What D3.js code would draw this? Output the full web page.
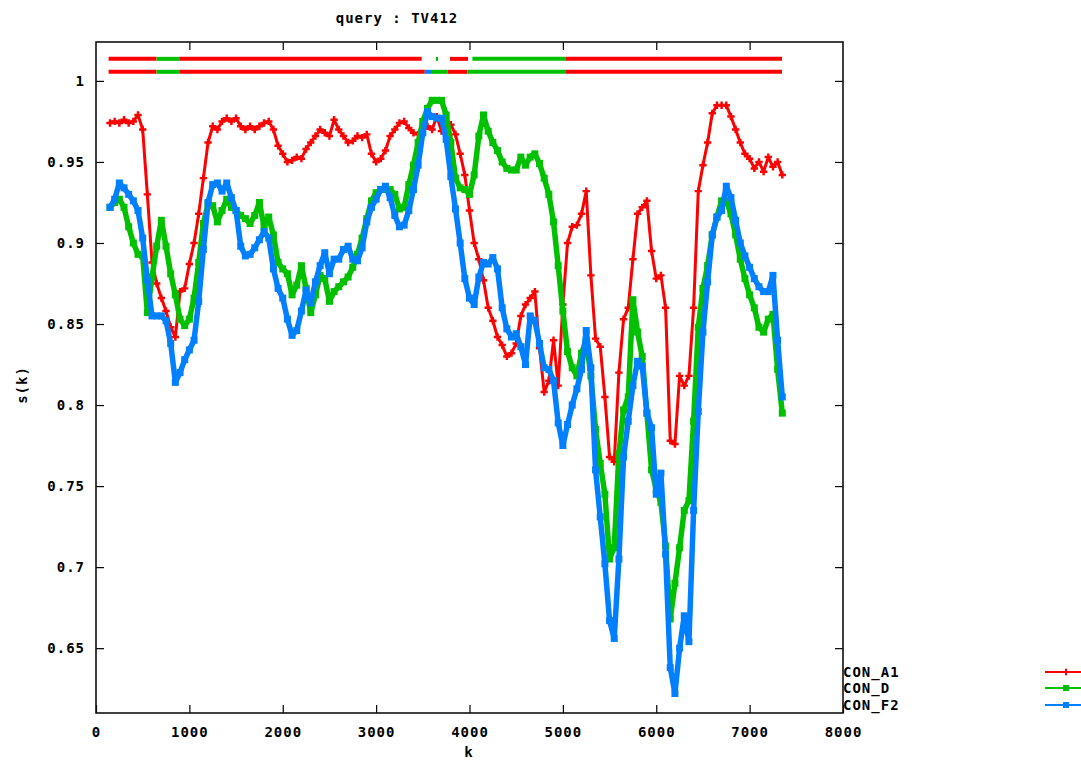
<!DOCTYPE html>
<html>
<head>
<meta charset="utf-8">
<script src="https://cdn.jsdelivr.net/npm/d3@7"></script>
<style>
  body { margin: 0; background: #fff; }
  svg { display: block; }
  text { font-family: "DejaVu Sans Mono", "Liberation Mono", monospace; font-weight: bold; font-size: 14px; letter-spacing: 1px; fill: #000; }
</style>
</head>
<body>
<svg id="chart" width="1081" height="760"></svg>
<script>
// Window positions k (sliding window start along the query)
const kValues = d3.range(150, 7351, 50);

// Similarity s(k) of query TV412 against each reference
const conA1 = [
  0.974, 0.975, 0.974, 0.976, 0.974, 0.975, 0.979, 0.970, 0.930, 0.888,
  0.875, 0.866, 0.858, 0.848, 0.842, 0.870, 0.872, 0.887, 0.900, 0.918,
  0.940, 0.962, 0.972, 0.970, 0.975, 0.977, 0.975, 0.977, 0.972, 0.970,
  0.972, 0.970, 0.972, 0.974, 0.975, 0.970, 0.960, 0.955, 0.950, 0.951,
  0.953, 0.952, 0.958, 0.962, 0.966, 0.970, 0.968, 0.966, 0.976, 0.970,
  0.966, 0.962, 0.963, 0.966, 0.965, 0.967, 0.955, 0.950, 0.952, 0.957,
  0.966, 0.970, 0.974, 0.975, 0.971, 0.968, 0.967, 0.971, 0.972, 0.970,
  0.978, 0.969, 0.968, 0.973, 0.967, 0.955, 0.942, 0.920, 0.900, 0.890,
  0.877, 0.860, 0.852, 0.842, 0.837, 0.830, 0.832, 0.838, 0.855, 0.862,
  0.866, 0.870, 0.835, 0.808, 0.815, 0.840, 0.812, 0.862, 0.900, 0.910,
  0.911, 0.918, 0.932, 0.880, 0.841, 0.836, 0.805, 0.768, 0.765, 0.820,
  0.853, 0.860, 0.890, 0.918, 0.922, 0.926, 0.895, 0.878, 0.880, 0.860,
  0.778, 0.776, 0.818, 0.812, 0.818, 0.860, 0.932, 0.948, 0.962, 0.980,
  0.985, 0.985, 0.985, 0.978, 0.970, 0.962, 0.955, 0.952, 0.946, 0.950,
  0.944, 0.953, 0.947, 0.950, 0.942
];
const conD = [
  0.922, 0.925, 0.927, 0.922, 0.910, 0.900, 0.893, 0.892, 0.857, 0.879,
  0.898, 0.914, 0.898, 0.881, 0.868, 0.853, 0.849, 0.853, 0.866, 0.888,
  0.912, 0.924, 0.923, 0.913, 0.920, 0.927, 0.922, 0.920, 0.917, 0.915,
  0.912, 0.917, 0.925, 0.910, 0.916, 0.905, 0.888, 0.884, 0.881, 0.868,
  0.874, 0.886, 0.872, 0.857, 0.868, 0.880, 0.878, 0.864, 0.870, 0.873,
  0.876, 0.879, 0.885, 0.893, 0.903, 0.915, 0.926, 0.931, 0.933, 0.933,
  0.933, 0.930, 0.921, 0.922, 0.936, 0.948, 0.962, 0.975, 0.983, 0.988,
  0.988, 0.988, 0.979, 0.962, 0.940, 0.934, 0.933, 0.930, 0.942, 0.966,
  0.979, 0.969, 0.962, 0.957, 0.950, 0.946, 0.945, 0.945, 0.953, 0.948,
  0.953, 0.955, 0.949, 0.940, 0.930, 0.913, 0.886, 0.858, 0.833, 0.823,
  0.818, 0.832, 0.840, 0.818, 0.785, 0.764, 0.745, 0.705, 0.712, 0.770,
  0.797, 0.805, 0.865, 0.845, 0.830, 0.795, 0.760, 0.748, 0.740, 0.713,
  0.668, 0.690, 0.712, 0.735, 0.741, 0.790, 0.848, 0.872, 0.886, 0.905,
  0.916, 0.926, 0.926, 0.918, 0.905, 0.890, 0.878, 0.868, 0.860, 0.848,
  0.845, 0.853, 0.856, 0.822, 0.795
];
const conF2 = [
  0.922, 0.927, 0.937, 0.934, 0.930, 0.926, 0.920, 0.903, 0.877, 0.855,
  0.855, 0.855, 0.852, 0.838, 0.814, 0.820, 0.828, 0.834, 0.840, 0.864,
  0.896, 0.925, 0.936, 0.937, 0.932, 0.937, 0.928, 0.920, 0.898, 0.892,
  0.893, 0.897, 0.902, 0.907, 0.903, 0.884, 0.872, 0.866, 0.853, 0.843,
  0.846, 0.858, 0.871, 0.863, 0.876, 0.886, 0.894, 0.881, 0.890, 0.890,
  0.896, 0.898, 0.890, 0.889, 0.897, 0.913, 0.922, 0.927, 0.933, 0.935,
  0.928, 0.917, 0.910, 0.911, 0.920, 0.933, 0.948, 0.968, 0.981, 0.978,
  0.977, 0.977, 0.964, 0.941, 0.921, 0.900, 0.878, 0.866, 0.862, 0.879,
  0.888, 0.887, 0.891, 0.884, 0.860, 0.847, 0.842, 0.844, 0.836, 0.825,
  0.855, 0.852, 0.838, 0.823, 0.822, 0.815, 0.789, 0.775, 0.788, 0.800,
  0.810, 0.822, 0.846, 0.823, 0.760, 0.731, 0.702, 0.667, 0.656, 0.705,
  0.768, 0.790, 0.812, 0.827, 0.824, 0.795, 0.786, 0.745, 0.758, 0.708,
  0.638, 0.622, 0.650, 0.670, 0.654, 0.735, 0.796, 0.845, 0.876, 0.905,
  0.916, 0.920, 0.935, 0.928, 0.914, 0.900, 0.892, 0.885, 0.878, 0.873,
  0.870, 0.870, 0.880, 0.840, 0.805
];

// Best-matching reference per region, two assignment rows drawn above the curves
const bestRowUpper = [
  [135, 648, "CON_A1"], [648, 892, "CON_D"], [892, 3488, "CON_A1"],
  [3641, 3663, "CON_D"], [3791, 3984, "CON_A1"], [4031, 5033, "CON_D"],
  [5033, 7347, "CON_A1"]
];
const bestRowLower = [
  [135, 648, "CON_A1"], [648, 892, "CON_D"], [892, 3521, "CON_A1"],
  [3521, 3598, "CON_F2"], [3598, 3765, "CON_D"], [3765, 3979, "CON_A1"],
  [3979, 5033, "CON_D"], [5033, 7347, "CON_A1"]
];
const rowLevels = [1.0136, 1.0056];

const seriesNames = ["CON_A1", "CON_D", "CON_F2"];
const seriesValues = [conA1, conD, conF2];
const seriesColors = ["#ff0000", "#00c000", "#0080ff"];

const xTicks = [0, 1000, 2000, 3000, 4000, 5000, 6000, 7000, 8000];
const yTicks = [0.65, 0.7, 0.75, 0.8, 0.85, 0.9, 0.95, 1];

const svg = d3.select("#chart");
const plotL = 96, plotR = 843, plotT = 42, plotB = 713;

const x = d3.scaleLinear().domain([0, 8000]).range([plotL, plotR]);
const y = d3.scaleLinear().domain([0.61, 1.024]).range([plotB, plotT]);
const color = d3.scaleOrdinal().domain(seriesNames).range(seriesColors);

svg.append("rect").attr("width", 1081).attr("height", 760).attr("fill", "#fff");

// Axes: inward ticks, mirrored on top and right
const fmtY = d => String(+d.toFixed(2));
function styleAxis(g) {
  g.select(".domain").remove();
  g.selectAll(".tick line").attr("stroke", "#000").attr("stroke-width", 1.2);
  g.selectAll(".tick text").attr("font-family", null).attr("font-size", null).attr("fill", "#000");
}
svg.append("g").attr("transform", `translate(${plotL},0)`)
  .call(d3.axisLeft(y).tickValues(yTicks).tickSize(-8).tickPadding(11).tickFormat(fmtY))
  .call(styleAxis);
svg.append("g").attr("transform", `translate(${plotR},0)`)
  .call(d3.axisRight(y).tickValues(yTicks).tickSize(-8).tickFormat(""))
  .call(styleAxis);
svg.append("g").attr("transform", `translate(0,${plotB})`)
  .call(d3.axisBottom(x).tickValues(xTicks).tickSize(-8).tickPadding(14).tickFormat(d3.format("d")))
  .call(styleAxis);
svg.append("g").attr("transform", `translate(0,${plotT})`)
  .call(d3.axisTop(x).tickValues(xTicks.slice(1, -1)).tickSize(-8).tickFormat(""))
  .call(styleAxis);

svg.append("rect")
  .attr("x", plotL).attr("y", plotT)
  .attr("width", plotR - plotL).attr("height", plotB - plotT)
  .attr("fill", "none").attr("stroke", "#111").attr("stroke-width", 1.6);

// Assignment rows
[bestRowUpper, bestRowLower].forEach((row, i) => {
  svg.append("g").selectAll("line").data(row).join("line")
    .attr("x1", d => x(d[0])).attr("x2", d => x(d[1]))
    .attr("y1", y(rowLevels[i])).attr("y2", y(rowLevels[i]))
    .attr("stroke", d => color(d[2])).attr("stroke-width", 4);
});

// Curves with point markers
const line = d3.line().x(d => x(d[0])).y(d => y(d[1]));
const crossPath = d3.symbol().type(d3.symbolCross).size(30)();
const sq = 7;

seriesNames.forEach((name, i) => {
  const pts = kValues.map((k, j) => [k, seriesValues[i][j]]);
  const g = svg.append("g");
  g.append("path").datum(pts)
    .attr("d", line).attr("fill", "none")
    .attr("stroke", color(name))
    .attr("stroke-width", i === 0 ? 3 : 5.5)
    .attr("stroke-linejoin", "round");
  if (i === 0) {
    g.selectAll("path.pt").data(pts).join("path").attr("class", "pt")
      .attr("d", crossPath)
      .attr("transform", d => `translate(${x(d[0])},${y(d[1])})`)
      .attr("fill", color(name));
  } else {
    g.selectAll("rect").data(pts).join("rect")
      .attr("x", d => x(d[0]) - sq / 2).attr("y", d => y(d[1]) - sq / 2)
      .attr("width", sq).attr("height", sq)
      .attr("fill", color(name));
  }
});

// Title and axis labels
svg.append("text").attr("x", 397).attr("y", 23).attr("text-anchor", "middle").text("query : TV412");
svg.append("text").attr("x", 469).attr("y", 757).attr("text-anchor", "middle").text("k");
svg.append("text").attr("transform", "translate(27,385) rotate(-90)").attr("text-anchor", "middle").text("s(k)");

// Legend
const legendY = [672, 688, 705];
seriesNames.forEach((name, i) => {
  const ly = legendY[i];
  svg.append("text").attr("x", 843).attr("y", ly + 5).text(name);
  svg.append("line").attr("x1", 1045).attr("x2", 1095).attr("y1", ly).attr("y2", ly)
    .attr("stroke", color(name)).attr("stroke-width", 2);
  if (i === 0) {
    svg.append("path").attr("d", d3.symbol().type(d3.symbolCross).size(22)()).attr("transform", `translate(1066,${ly})`).attr("fill", color(name));
  } else {
    svg.append("rect").attr("x", 1063).attr("y", ly - 3).attr("width", 6).attr("height", 6).attr("fill", color(name));
  }
});
</script>
</body>
</html>
